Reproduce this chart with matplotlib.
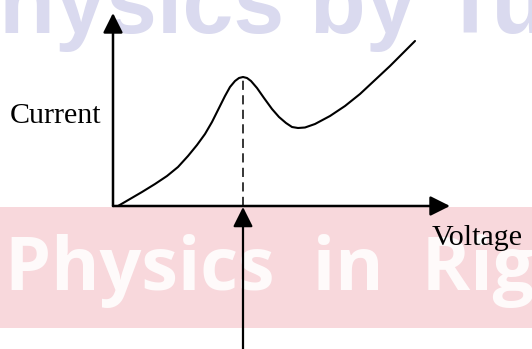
import matplotlib
matplotlib.use("Agg")
import matplotlib.pyplot as plt
from matplotlib.patches import ArrowStyle

# schematic I-V curve (arbitrary units, origin at the axes corner)
voltage = [5, 17, 29, 42, 54, 65, 75, 84, 92, 99,
           106, 112, 117, 122, 126, 130, 134, 138, 144, 151,
           159, 166, 173, 179, 185, 192, 202, 217, 232, 247,
           262, 277, 290, 302]
current = [0, 7, 14, 22, 30, 39, 50, 61, 72, 84,
           98, 110, 119, 125, 128, 129, 128, 125, 118, 108,
           97, 89, 83, 79, 78, 78.5, 82, 90, 100, 112,
           126, 140, 153, 165]

# the hump (first local maximum) is marked with the dashed line
peak_idx = 15
peak_v = voltage[peak_idx]
peak_i = current[peak_idx]

fig = plt.figure(figsize=(5.32, 3.49), dpi=100)
ax = fig.add_axes([0, 0, 1, 1])
ax.set_xlim(-113, 419)
ax.set_ylim(-143, 206)
ax.axis("off")

# background watermarks
ax.axhspan(-122, -1, color="#f8d8dc", zorder=0, lw=0)
ax.text(-108, -84, "Physics  in  Rig", fontsize=53, color="#fefafa",
        family="Open Sans", fontweight="bold", zorder=1)
ax.text(-175, 173, "Physics by Tu", fontsize=66, color="#dadaef",
        family="Liberation Sans", fontweight="bold", zorder=1)

head = ArrowStyle("-|>", head_length=1.0, head_width=0.5)
arrow_kw = dict(arrowstyle=head, mutation_scale=12, color="black", lw=1.8,
                shrinkA=0, shrinkB=0)

# axes arrows
ax.annotate("", xy=(0, 193), xytext=(0, 0), arrowprops=arrow_kw, zorder=3)
ax.annotate("", xy=(337, 0), xytext=(0, 0), arrowprops=arrow_kw, zorder=3)

# curve and peak marker
ax.plot(voltage, current, color="black", lw=1.5, solid_joinstyle="round",
        solid_capstyle="round", zorder=4)
ax.plot([peak_v, peak_v], [0, peak_i], color="black", lw=1.1,
        linestyle=(0, (6, 3.5)), zorder=4)
ax.annotate("", xy=(peak_v, -1), xytext=(peak_v, -143),
            arrowprops=dict(arrow_kw, lw=1.6), zorder=3)

ax.text(-103, 83, "Current", fontsize=21.6, family="Liberation Serif",
        color="black", zorder=5)
ax.text(319, -39, "Voltage", fontsize=21.6, family="Liberation Serif",
        color="black", zorder=5)

fig.savefig("out.png", dpi=100)
